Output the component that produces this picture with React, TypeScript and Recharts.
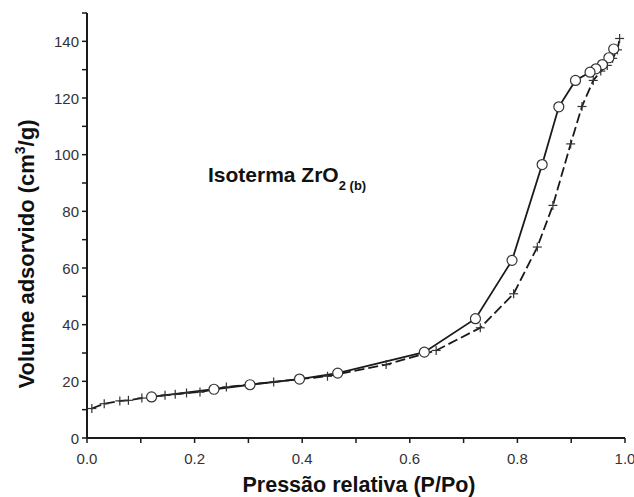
import { Customized, Line, LineChart, XAxis, YAxis } from "recharts";

// N2 isotherm for ZrO2 (b): relative pressure vs adsorbed volume
const adsPressure = [
  0.009, 0.032, 0.061, 0.077, 0.102, 0.145, 0.164, 0.185, 0.21, 0.259, 0.347,
  0.447, 0.556, 0.649, 0.731, 0.793, 0.837, 0.866, 0.899, 0.92, 0.941, 0.955,
  0.967, 0.977, 0.986, 0.99,
];
const adsVolume = [
  10.4, 12.1, 13.1, 13.3, 14.1, 15.1, 15.4, 15.9, 16.2, 18.0, 19.8, 21.8, 25.9,
  30.9, 38.9, 50.9, 67.4, 82.1, 103.8, 117.0, 126.2, 129.5, 131.5, 134.0, 137.0,
  141.0,
];

const desPressure = [
  0.979, 0.97, 0.958, 0.946, 0.935, 0.908, 0.877, 0.846, 0.79, 0.722, 0.627,
  0.466, 0.395, 0.303, 0.236, 0.12,
];
const desVolume = [
  137.3, 134.2, 131.8, 130.3, 129.1, 126.2, 116.9, 96.5, 62.7, 42.1, 30.3, 22.9,
  20.8, 18.8, 17.2, 14.5,
];

const xTicks = [0, 0.1, 0.2, 0.3, 0.4, 0.5, 0.6, 0.7, 0.8, 0.9, 1.0];
const yTicks = [0, 10, 20, 30, 40, 50, 60, 70, 80, 90, 100, 110, 120, 130, 140, 150];
const yTicksRight = [0, 15, 30, 45, 60, 75, 90, 105, 120, 135, 150];

const adsorption = adsPressure.map((p, i) => ({ p, v: adsVolume[i] }));
const desorption = desPressure.map((p, i) => ({ p, v: desVolume[i] }));

const INK = "#1a1a1a";
const FONT = "Arial, 'Liberation Sans', sans-serif";

const LeftTick = (props: any) => {
  const { x, y, payload } = props;
  const major = Math.round(payload.value) % 20 === 0 && payload.value <= 140;
  return (
    <g>
      <line x1={x - 5} x2={x} y1={y} y2={y} stroke={INK} strokeWidth={1.5} />
      {major && (
        <text x={x - 8} y={y + 5.5} textAnchor="end" fontSize={15} fill="#333" fontFamily={FONT}>
          {payload.value}
        </text>
      )}
    </g>
  );
};

const BottomTick = (props: any) => {
  const { x, y, payload, index } = props;
  return (
    <g>
      <line x1={x} x2={x} y1={y} y2={y + 5} stroke={INK} strokeWidth={1.5} />
      {index % 2 === 0 && (
        <text x={x} y={y + 26} textAnchor="middle" fontSize={15} fill="#333" fontFamily={FONT}>
          {payload.value.toFixed(1)}
        </text>
      )}
    </g>
  );
};

const TopTick = (props: any) => {
  const { x, y } = props;
  return <line x1={x} x2={x} y1={y} y2={y + 5} stroke={INK} strokeWidth={1.5} />;
};

const RightTick = (props: any) => {
  const { x, y } = props;
  return <line x1={x - 5} x2={x} y1={y} y2={y} stroke={INK} strokeWidth={1.5} />;
};

const CrossDot = (props: any) => {
  const { cx, cy, index } = props;
  if (cx == null || cy == null) return <g key={index} />;
  const s = 4.5;
  return (
    <g key={index} stroke="#333" strokeWidth={1.2}>
      <line x1={cx - s} x2={cx + s} y1={cy} y2={cy} />
      <line x1={cx} x2={cx} y1={cy - s} y2={cy + s} />
    </g>
  );
};

const Labels = () => (
  <g fontFamily={FONT} fontWeight="bold" fill="#111">
    <text x={208} y={182} fontSize={21}>
      Isoterma ZrO
      <tspan fontSize={13} dy={8}>2 (b)</tspan>
    </text>
    <text x={359} y={492} fontSize={21.5} textAnchor="middle">
      Pressão relativa (P/Po)
    </text>
    <text transform="translate(34, 254) rotate(-90)" fontSize={22} textAnchor="middle">
      Volume adsorvido (cm
      <tspan fontSize={14} dy={-9}>3</tspan>
      <tspan dy={9}>/g)</tspan>
    </text>
  </g>
);

export default function App() {
  return (
    <div style={{ position: "absolute", left: 0, top: 0, background: "#fff" }}>
      <LineChart width={634} height={497} margin={{ top: 13, right: 9, left: 0, bottom: 0 }}>
        <XAxis
          xAxisId="bottom"
          dataKey="p"
          type="number"
          domain={[0, 1]}
          ticks={xTicks}
          interval={0}
          height={59}
          tickSize={0}
          tickMargin={0}
          tickLine={false}
          tick={<BottomTick />}
          axisLine={{ stroke: INK, strokeWidth: 2 }}
        />
        <XAxis
          xAxisId="top"
          orientation="top"
          mirror
          type="number"
          domain={[0, 1]}
          ticks={xTicks}
          interval={0}
          height={0}
          tickSize={0}
          tickMargin={0}
          tickLine={false}
          tick={<TopTick />}
          axisLine={{ stroke: INK, strokeWidth: 2 }}
        />
        <YAxis
          yAxisId="left"
          type="number"
          domain={[0, 150]}
          ticks={yTicks}
          interval={0}
          width={87}
          tickSize={0}
          tickMargin={0}
          tickLine={false}
          tick={<LeftTick />}
          axisLine={{ stroke: INK, strokeWidth: 2 }}
        />
        <YAxis
          yAxisId="right"
          orientation="right"
          mirror
          type="number"
          domain={[0, 150]}
          ticks={yTicksRight}
          interval={0}
          width={0}
          tickSize={0}
          tickMargin={0}
          tickLine={false}
          tick={<RightTick />}
          axisLine={{ stroke: INK, strokeWidth: 2 }}
        />
        <Line
          xAxisId="bottom"
          yAxisId="left"
          data={adsorption}
          dataKey="v"
          type="linear"
          stroke={INK}
          strokeWidth={1.8}
          strokeDasharray="10 4"
          dot={CrossDot}
          activeDot={false}
          isAnimationActive={false}
        />
        <Line
          xAxisId="bottom"
          yAxisId="left"
          data={desorption}
          dataKey="v"
          type="linear"
          stroke={INK}
          strokeWidth={1.8}
          dot={{ r: 5, fill: "#fff", stroke: "#333", strokeWidth: 1.2 }}
          activeDot={false}
          isAnimationActive={false}
        />
        <Customized component={Labels} />
      </LineChart>
    </div>
  );
}
